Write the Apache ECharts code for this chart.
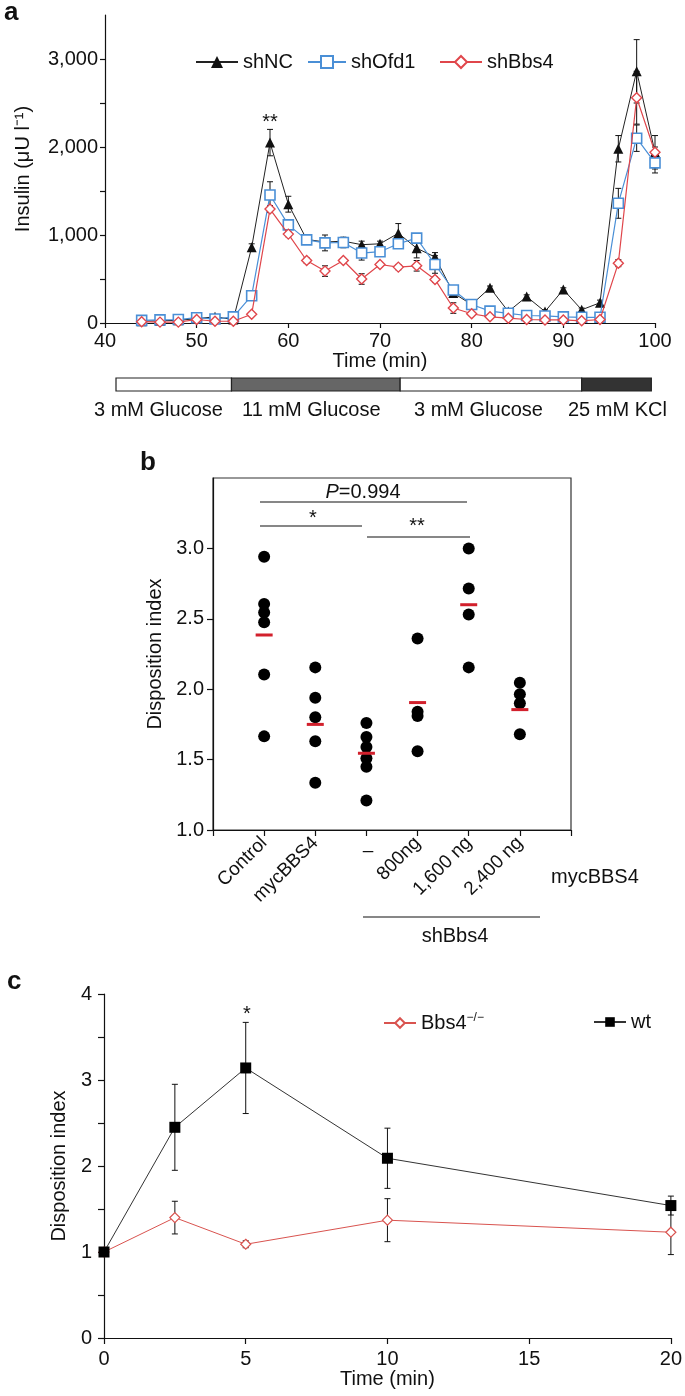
<!DOCTYPE html>
<html>
<head>
<meta charset="utf-8">
<script src="https://cdn.jsdelivr.net/npm/echarts@6/dist/echarts.min.js"></script>
<style>
  html, body { margin: 0; padding: 0; background: #fff; }
  #chart { width: 685px; height: 1396px; }
</style>
</head>
<body>
<div id="chart"></div>
<script>
  // panel a - perifusion, insulin (uU/l) every 2 min
  var timeA = [44, 46, 48, 50, 52, 54, 56, 58, 60, 62, 64, 66, 68, 70, 72, 74, 76, 78, 80, 82, 84, 86, 88, 90, 92, 94, 96, 98, 100]
  var shNC = [20, 25, 30, 50, 70, 40, 860, 2050, 1350, 950, 920, 930, 890, 900, 1020, 850, 750, 340, 210, 400, 130, 300, 130, 380, 150, 230, 1980, 2860, 1940]
  var shNCErr = [10, 10, 10, 10, 10, 10, 40, 150, 90, 30, 40, 40, 40, 30, 110, 110, 50, 40, 30, 20, 20, 20, 20, 20, 20, 30, 150, 360, 190]
  var shOfd1 = [30, 35, 40, 60, 45, 70, 310, 1455, 1115, 945, 910, 915, 795, 810, 900, 965, 665, 375, 210, 135, 110, 85, 80, 70, 65, 65, 1360, 2100, 1820]
  var shOfd1Err = [10, 10, 10, 10, 10, 10, 30, 150, 40, 30, 90, 60, 80, 40, 40, 40, 100, 40, 30, 10, 10, 10, 10, 10, 10, 10, 170, 150, 115]
  var shBbs4 = [15, 10, 10, 40, 20, 20, 100, 1295, 1010, 710, 590, 710, 500, 665, 635, 650, 495, 170, 105, 70, 55, 40, 35, 35, 25, 40, 680, 2560, 1940]
  var shBbs4Err = [10, 10, 10, 10, 10, 10, 20, 40, 30, 30, 60, 20, 60, 20, 30, 60, 30, 60, 20, 10, 10, 10, 10, 10, 10, 10, 40, 300, 60]
  var yTicksA = [0, 500, 1000, 1500, 2000, 2500, 3000]
  var yLabelsA = [0, 1000, 2000, 3000]

  // stimulus bar under panel a
  var stimStart = [41.2, 53.8, 72.2, 92]
  var stimEnd = [53.8, 72.2, 92, 99.6]
  var stimLabels = ['3 mM Glucose', '11 mM Glucose', '3 mM Glucose', '25 mM KCl']

  // panel b - disposition index per group
  var groupsB = ['Control', 'mycBBS4', '–', '800ng', '1,600 ng', '2,400 ng']
  var pointsB = [
    [2.94, 2.605, 2.545, 2.475, 2.105, 1.665],
    [2.155, 1.94, 1.80, 1.63, 1.335],
    [1.76, 1.66, 1.59, 1.51, 1.45, 1.21],
    [2.36, 1.84, 1.81, 1.56],
    [3.0, 2.715, 2.53, 2.155],
    [2.045, 1.965, 1.90, 1.68]
  ]
  var meansB = [2.385, 1.75, 1.545, 1.905, 2.6, 1.855]

  // panel c - disposition index over time
  var timeC = [0, 2.5, 5, 10, 20]
  var wt = [1.0, 2.45, 3.14, 2.09, 1.54]
  var wtErr = [0, 0.5, 0.53, 0.35, 0.11]
  var bbs4 = [1.0, 1.40, 1.09, 1.37, 1.23]
  var bbs4Err = [0, 0.19, 0.04, 0.25, 0.26]

  var FONT = 'Liberation Sans, Arial, sans-serif'
  var stimColors = ['#ffffff', '#666666', '#ffffff', '#333333']

  function errData(xs, ys, es) {
    return xs.map(function (x, i) { return [x, ys[i] - es[i], ys[i] + es[i]] })
  }

  function errorBar(cap) {
    return function (params, api) {
      var top = api.coord([api.value(0), api.value(2)])
      var bot = api.coord([api.value(0), api.value(1)])
      var st = { stroke: '#111', lineWidth: 1 }
      return {
        type: 'group',
        children: [
          { type: 'line', shape: { x1: top[0], y1: top[1], x2: bot[0], y2: bot[1] }, style: st },
          { type: 'line', shape: { x1: top[0] - cap, y1: top[1], x2: top[0] + cap, y2: top[1] }, style: st },
          { type: 'line', shape: { x1: bot[0] - cap, y1: bot[1], x2: bot[0] + cap, y2: bot[1] }, style: st }
        ]
      }
    }
  }

  function axisBase() {
    return {
      axisLine: { lineStyle: { color: '#111', width: 1.2 } },
      axisTick: { inside: false, length: 5, lineStyle: { color: '#111', width: 1.2 } },
      axisLabel: { color: '#111', fontSize: 20, fontFamily: FONT },
      splitLine: { show: false }
    }
  }

  function txt(text, x, y, opt) {
    opt = opt || {}
    return {
      type: 'text', x: x, y: y,
      style: {
        text: text, fill: '#111', fontFamily: FONT,
        fontSize: opt.size || 20, fontWeight: opt.bold ? 'bold' : 'normal',
        align: opt.align || 'center', verticalAlign: 'middle',
        rich: opt.rich
      }
    }
  }
  function seg(x1, y1, x2, y2) {
    return { type: 'line', shape: { x1: x1, y1: y1, x2: x2, y2: y2 }, style: { stroke: '#111', lineWidth: 1.2 } }
  }

  var chart = echarts.init(document.getElementById('chart'))

  var scatterB = []
  pointsB.forEach(function (arr, g) {
    arr.forEach(function (v) { scatterB.push([g + 1, v]) })
  })

  var nameStyle = { color: '#111', fontSize: 20, fontFamily: FONT }

  var xA = Object.assign(axisBase(), {
    type: 'value', gridIndex: 0, min: 40, max: 100, interval: 10,
    name: 'Time (min)', nameLocation: 'middle', nameGap: 23, nameTextStyle: nameStyle
  })
  xA.axisLabel.margin = 8
  var yA = Object.assign(axisBase(), {
    type: 'value', gridIndex: 0, min: 0, max: 3500,
    name: 'Insulin (μU l⁻¹)', nameLocation: 'middle', nameGap: 72, nameTextStyle: nameStyle
  })
  yA.axisTick.customValues = yTicksA
  yA.axisLabel.customValues = yLabelsA
  yA.axisLabel.margin = 7
  yA.axisLabel.formatter = function (v) { return v.toLocaleString('en-US') }

  var xB = Object.assign(axisBase(), { type: 'value', gridIndex: 2, min: 0, max: 7 })
  xB.axisTick.customValues = [0, 1, 2, 3, 4, 5, 6, 7]
  xB.axisTick.length = 6
  xB.axisLabel.customValues = [1, 2, 4, 5, 6]
  xB.axisLabel.rotate = 45
  xB.axisLabel.fontSize = 19
  xB.axisLabel.margin = 10
  xB.axisLabel.formatter = function (v) { return groupsB[v - 1] }
  var yB = Object.assign(axisBase(), {
    type: 'value', gridIndex: 2, min: 1, max: 3.5,
    name: 'Disposition index', nameLocation: 'middle', nameGap: 46, nameTextStyle: nameStyle
  })
  yB.axisTick.customValues = [1, 1.5, 2, 2.5, 3]
  yB.axisTick.length = 6
  yB.axisLabel.customValues = [1, 1.5, 2, 2.5, 3]
  yB.axisLabel.margin = 9
  yB.axisLabel.formatter = function (v) { return v.toFixed(1) }

  var xC = Object.assign(axisBase(), {
    type: 'value', gridIndex: 3, min: 0, max: 20, interval: 5,
    name: 'Time (min)', nameLocation: 'middle', nameGap: 31, nameTextStyle: nameStyle
  })
  xC.axisTick.length = 6
  xC.axisLabel.margin = 11
  var yC = Object.assign(axisBase(), {
    type: 'value', gridIndex: 3, min: 0, max: 4,
    name: 'Disposition index', nameLocation: 'middle', nameGap: 33, nameTextStyle: nameStyle
  })
  yC.axisTick.customValues = [0, 0.5, 1, 1.5, 2, 2.5, 3, 3.5, 4]
  yC.axisTick.length = 6
  yC.axisLabel.customValues = [0, 1, 2, 3, 4]
  yC.axisLabel.margin = 12

  var legendText = { color: '#111', fontSize: 20, fontFamily: FONT }

  chart.setOption({
    animation: false,
    backgroundColor: '#fff',
    grid: [
      { left: 105, top: 15, width: 550, height: 308 },
      { left: 105, top: 378, width: 550, height: 13 },
      { left: 213, top: 478, width: 358, height: 352, show: true, borderColor: '#333', borderWidth: 1.2 },
      { left: 104, top: 994, width: 572, height: 344 }
    ],
    xAxis: [xA, { type: 'value', gridIndex: 1, min: 40, max: 100, show: false }, xB, xC],
    yAxis: [yA, { type: 'value', gridIndex: 1, min: 0, max: 1, show: false }, yB, yC],
    legend: [
      { data: ['shNC'], left: 190, top: 47, itemWidth: 42, itemHeight: 15, itemGap: 6, textStyle: legendText },
      { data: ['shOfd1'], left: 302, top: 47, itemWidth: 38, itemHeight: 15, textStyle: legendText },
      { data: ['shBbs4'], left: 434, top: 47, itemWidth: 42, itemHeight: 15, textStyle: legendText },
      {
        data: ['Bbs4'], left: 378, top: 1007, itemWidth: 32, itemHeight: 12,
        formatter: function () { return '{b|Bbs4}{s|−/−}' },
        textStyle: Object.assign({}, legendText, {
          rich: { b: { fontSize: 20, fontFamily: FONT, color: '#111' }, s: { fontSize: 12, fontFamily: FONT, color: '#111', verticalAlign: 'top', padding: [0, 0, 10, 0] } }
        })
      },
      { data: ['wt'], left: 588, top: 1007, itemWidth: 32, itemHeight: 12, textStyle: legendText }
    ],
    series: [
      // panel a
      { type: 'custom', name: 'errNC', xAxisIndex: 0, yAxisIndex: 0, renderItem: errorBar(3), data: errData(timeA, shNC, shNCErr), z: 1 },
      { type: 'custom', name: 'errOfd1', xAxisIndex: 0, yAxisIndex: 0, renderItem: errorBar(3), data: errData(timeA, shOfd1, shOfd1Err), z: 1 },
      { type: 'custom', name: 'errBbs4', xAxisIndex: 0, yAxisIndex: 0, renderItem: errorBar(3), data: errData(timeA, shBbs4, shBbs4Err), z: 1 },
      {
        type: 'line', name: 'shNC', xAxisIndex: 0, yAxisIndex: 0, z: 3,
        data: timeA.map(function (t, i) { return [t, shNC[i]] }),
        symbol: 'triangle', symbolSize: 10, showAllSymbol: true,
        lineStyle: { color: '#222', width: 1 }, itemStyle: { color: '#111' }
      },
      {
        type: 'line', name: 'shOfd1', xAxisIndex: 0, yAxisIndex: 0, z: 4,
        data: timeA.map(function (t, i) { return [t, shOfd1[i]] }),
        symbol: 'rect', symbolSize: 10, showAllSymbol: true,
        lineStyle: { color: '#4a8fd6', width: 1.2 }, itemStyle: { color: '#fff', borderColor: '#4a8fd6', borderWidth: 1.6 }
      },
      {
        type: 'line', name: 'shBbs4', xAxisIndex: 0, yAxisIndex: 0, z: 5,
        data: timeA.map(function (t, i) { return [t, shBbs4[i]] }),
        symbol: 'diamond', symbolSize: 10, showAllSymbol: true,
        lineStyle: { color: '#e0464b', width: 1.2 }, itemStyle: { color: '#fff', borderColor: '#e0464b', borderWidth: 1.4 }
      },
      // stimulus bar
      {
        type: 'custom', name: 'stim', xAxisIndex: 1, yAxisIndex: 1,
        data: stimStart.map(function (s, i) { return [s, stimEnd[i], i] }),
        renderItem: function (params, api) {
          var x0 = api.coord([api.value(0), 0])[0]
          var x1 = api.coord([api.value(1), 0])[0]
          var cs = params.coordSys
          return { type: 'rect', shape: { x: x0, y: cs.y, width: x1 - x0, height: cs.height }, style: { fill: stimColors[api.value(2)], stroke: '#222', lineWidth: 1.2 } }
        }
      },
      // panel b
      {
        type: 'scatter', name: 'pointsB', xAxisIndex: 2, yAxisIndex: 2,
        data: scatterB, symbolSize: 12, itemStyle: { color: '#000', opacity: 1 }
      },
      {
        type: 'scatter', name: 'meansB', xAxisIndex: 2, yAxisIndex: 2, z: 3,
        data: meansB.map(function (m, i) { return [i + 1, m] }),
        symbol: 'rect', symbolSize: [17, 3], itemStyle: { color: '#d2202c', opacity: 1 }
      },
      // panel c
      { type: 'custom', name: 'errBbs4C', xAxisIndex: 3, yAxisIndex: 3, renderItem: errorBar(3), data: errData(timeC, bbs4, bbs4Err), z: 1 },
      { type: 'custom', name: 'errWt', xAxisIndex: 3, yAxisIndex: 3, renderItem: errorBar(3), data: errData(timeC, wt, wtErr), z: 1 },
      {
        type: 'line', name: 'Bbs4', xAxisIndex: 3, yAxisIndex: 3, z: 3,
        data: timeC.map(function (t, i) { return [t, bbs4[i]] }),
        symbol: 'diamond', symbolSize: 10,
        lineStyle: { color: '#d9534f', width: 1 }, itemStyle: { color: '#fff', borderColor: '#d9534f', borderWidth: 1.2 }
      },
      {
        type: 'line', name: 'wt', xAxisIndex: 3, yAxisIndex: 3, z: 4,
        data: timeC.map(function (t, i) { return [t, wt[i]] }),
        symbol: 'rect', symbolSize: 11,
        lineStyle: { color: '#333', width: 1 }, itemStyle: { color: '#000' }
      }
    ],
    graphic: [
      txt('a', 4, 13, { size: 26, bold: true, align: 'left' }),
      txt('**', 270, 122, { size: 20 }),
      txt(stimLabels[0], 94, 410, { size: 20, align: 'left' }),
      txt(stimLabels[1], 242, 410, { size: 20, align: 'left' }),
      txt(stimLabels[2], 414, 410, { size: 20, align: 'left' }),
      txt(stimLabels[3], 568, 410, { size: 20, align: 'left' }),
      txt('b', 140, 463, { size: 26, bold: true, align: 'left' }),
      txt('{i|P}=0.994', 363, 492, { size: 20, rich: { i: { fontStyle: 'italic', fontSize: 20, fontFamily: FONT, fill: '#111' } } }),
      seg(260, 502, 467, 502),
      txt('*', 313, 518, { size: 20 }),
      seg(260, 526, 362, 526),
      txt('**', 417, 526, { size: 20 }),
      seg(367, 537, 470, 537),
      txt('–', 368, 851, { size: 19 }),
      txt('mycBBS4', 551, 877, { size: 20, align: 'left' }),
      seg(363, 917, 540, 917),
      txt('shBbs4', 455, 936, { size: 20 }),
      txt('c', 7, 982, { size: 26, bold: true, align: 'left' }),
      txt('*', 247, 1014, { size: 20 })
    ]
  })
</script>
</body>
</html>
